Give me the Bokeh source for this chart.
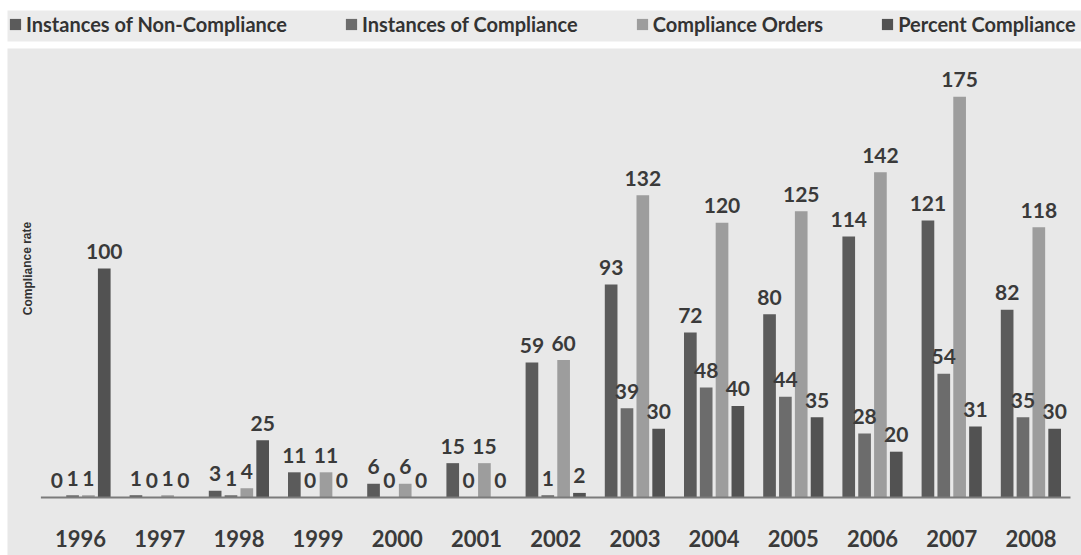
from bokeh.plotting import figure
from bokeh.models import ColumnDataSource, Legend, LegendItem, BoxAnnotation, Label, Range1d
from bokeh.core.properties import value
from bokeh.embed import file_html
from bokeh.resources import INLINE

# ---- data -------------------------------------------------------------
years = ["1996", "1997", "1998", "1999", "2000", "2001", "2002",
         "2003", "2004", "2005", "2006", "2007", "2008"]
non_compliance = [0, 1, 3, 11, 6, 15, 59, 93, 72, 80, 114, 121, 82]
compliance = [1, 0, 1, 0, 0, 0, 1, 39, 48, 44, 28, 54, 35]
compliance_orders = [1, 1, 4, 11, 6, 15, 60, 132, 120, 125, 142, 175, 118]
percent_compliance = [100, 0, 25, 0, 0, 0, 2, 30, 40, 35, 20, 31, 30]

series_names = ["Instances of Non-Compliance", "Instances of Compliance",
                "Compliance Orders", "Percent Compliance"]
series_values = [non_compliance, compliance, compliance_orders, percent_compliance]
series_colors = ["#5b5b5b", "#6c6c6c", "#9d9d9d", "#525252"]

# ---- canvas geometry ----------------------------------------------------
W, H = 1081, 555
PX_PER_X = 79.2      # pixels per year group
PX_PER_Y = 2.29      # pixels per unit of value
X0_PX = 80           # pixel centre of the first group
BASE_PX = 497        # pixel row of the zero line (from top)

x_start = -X0_PX / PX_PER_X
x_end = x_start + W / PX_PER_X
y_start = -(H - BASE_PX) / PX_PER_Y
y_end = y_start + H / PX_PER_Y


def xd(px):
    return x_start + px / PX_PER_X


def yd(py_top):
    return y_end - py_top / PX_PER_Y


p = figure(width=W, height=H, output_backend="svg", toolbar_location=None,
           x_range=Range1d(x_start, x_end), y_range=Range1d(y_start, y_end),
           x_axis_location=None, y_axis_location=None,
           min_border=0, outline_line_color=None,
           background_fill_color="white", border_fill_color="white")
p.grid.visible = False

# grey bands: legend strip and plotting area
p.add_layout(BoxAnnotation(left=xd(7), right=None, top=yd(10), bottom=yd(41),
                           fill_color="#ebebeb", fill_alpha=1, line_color=None,
                           level="underlay"))
p.add_layout(BoxAnnotation(left=xd(7), right=None, top=yd(48), bottom=None,
                           fill_color="#e8e8e8", fill_alpha=1, line_color=None,
                           level="underlay"))

offsets = [-0.3, -0.1, 0.1, 0.3]
bar_w = 0.16
n = len(years)

legend_items = []
label_x, label_y, label_t = [], [], []
for name, vals, col, off in zip(series_names, series_values, series_colors, offsets):
    src = ColumnDataSource(dict(x=[i + off for i in range(n)], top=vals))
    r = p.vbar(x="x", top="top", width=bar_w, bottom=0, source=src,
               fill_color=col, line_color=None)
    legend_items.append(LegendItem(label=name, renderers=[r]))
    label_x += [i + off for i in range(n)]
    label_y += vals
    label_t += [str(v) for v in vals]

# zero line
p.segment(x0=[-0.5], y0=[0], x1=[n - 0.5], y1=[0], line_color="#7b7b7b", line_width=2)

# value labels
p.text(x=label_x, y=label_y, text=label_t, text_align="center",
       text_baseline="alphabetic", y_offset=-17,
       text_font=value("Lato"), text_font_style="bold", text_font_size="21px",
       text_color="#3a3a3a")

# year labels under the zero line
p.text(x=list(range(n)), y=[0] * n, text=years, text_align="center",
       text_baseline="middle", y_offset=41,
       text_font=value("Lato"), text_font_style="bold", text_font_size="22px",
       text_color="#3a3a3a")

p.add_layout(Label(x=xd(27), y=yd(268), text="Compliance rate", angle=1.5708,
                   text_align="center", text_baseline="middle",
                   text_font="Liberation Sans", text_font_style="bold",
                   text_font_size="12px", text_color="#333333"))

legend = Legend(items=legend_items, orientation="horizontal", location=(8, 519),
                glyph_width=14, glyph_height=14, label_standoff=4, spacing=57,
                padding=0, margin=0, label_height=20,
                label_text_font="Lato", label_text_font_size="20px",
                label_text_font_style="bold",
                label_text_color="#333333", background_fill_alpha=0,
                border_line_color=None)
p.add_layout(legend)

open("out.html", "w").write(file_html(p, INLINE))
